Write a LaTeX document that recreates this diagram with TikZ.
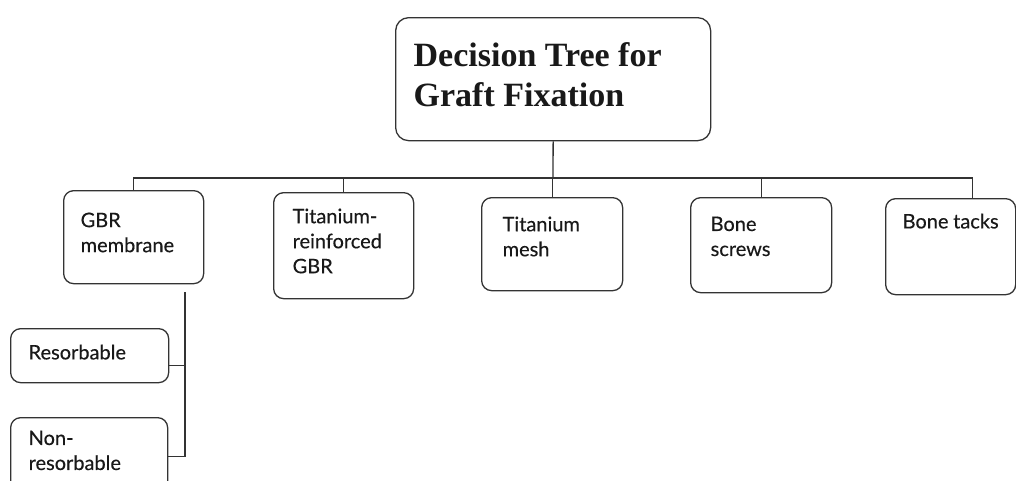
\documentclass[tikz,border=0pt]{standalone}
\usepackage{fontspec}
\setmainfont{Liberation Serif}
\newfontfamily\labelfont[FakeBold=0.3]{Lato}
% text block of fixed size, set from the top left
\newcommand{\cell}[3]{\parbox[c][#2][t]{#1}{\raggedright #3}}
\tikzset{
  treebox/.style={draw=black!80, line width=1.3pt, rounded corners=10pt,
    anchor=north west, text=black!90},
  small/.style={treebox, font=\labelfont\fontsize{20}{25}\selectfont},
  title/.style={treebox, rounded corners=13pt,
    font=\bfseries\fontsize{34}{40}\selectfont},
  link/.style={draw=black!80, line width=1.3pt}
}
\begin{document}
\begin{tikzpicture}[x=1pt, y=-1pt]
  \useasboundingbox (0,0) rectangle (1016,480);
  \clip (0,0) rectangle (1016,480);
  \fill[white] (0,0) rectangle (1016,480);

  % root
  \node[title, inner xsep=18pt, inner ysep=25pt] (root) at (395,17)
    {\cell{279pt}{73pt}{Decision Tree for\\Graft Fixation}};

  % first level
  \node[small, inner xsep=17pt, inner ysep=22pt] (gbr) at (63,190)
    {\cell{106pt}{49pt}{GBR\\membrane}};
  \node[small, inner xsep=19pt, inner ysep=16pt] (tirein) at (273,192)
    {\cell{102pt}{74pt}{Titanium-\\reinforced\\GBR}};
  \node[small, inner xsep=21pt, inner ysep=19pt] (timesh) at (481,197)
    {\cell{99pt}{55pt}{Titanium\\mesh}};
  \node[small, inner xsep=20pt, inner ysep=19pt] (screws) at (690,197)
    {\cell{101pt}{57pt}{Bone\\screws}};
  \node[small, inner xsep=17pt, inner ysep=15pt] (tacks) at (885,198)
    {\cell{96pt}{66pt}{Bone tacks}};

  % second level under the membrane
  \node[small, inner xsep=18pt, inner ysep=16pt] (res) at (10,328)
    {\cell{122pt}{22pt}{Resorbable}};
  \node[small, inner xsep=18pt, inner ysep=13pt] (nonres) at (10,417)
    {\cell{121pt}{52pt}{Non-\\resorbable}};

  % connectors
  \coordinate (bus) at (553,178);
  \coordinate (stem) at (185,292);
  \coordinate (resout) at ([yshift=-10pt]res.east);
  \coordinate (tackin) at ([xshift=22pt]tacks.north);
  \draw[link] (root.south) -- (bus);
  \draw[link] (gbr.north) |- (bus);
  \draw[link] (tirein.north) |- (bus);
  \draw[link] (timesh.north) |- (bus);
  \draw[link] (screws.north) |- (bus);
  \draw[link] (tackin) |- (bus);
  \draw[link] (stem) |- (nonres.east);
  \draw[link] (resout) -- (stem |- resout);
\end{tikzpicture}
\end{document}
